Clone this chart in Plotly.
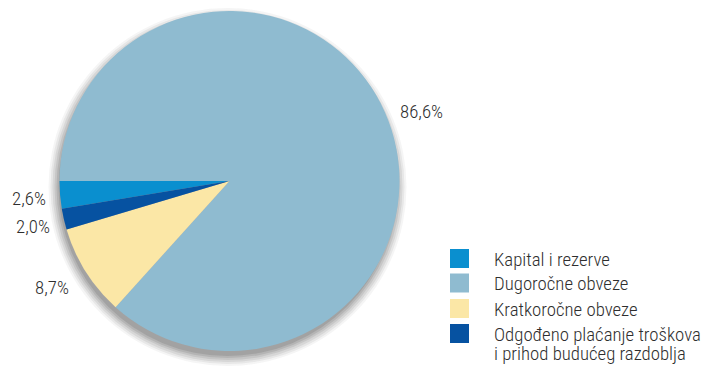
import plotly.graph_objects as go

# Structure of liabilities (shares in %)
labels = ["Kapital i rezerve", "Dugoročne obveze", "Kratkoročne obveze",
          "Odgođeno plaćanje troškova\ni prihod budućeg razdoblja"]
values = [2.6, 86.6, 8.7, 2.0]
colors = ["#0a8fcf", "#8fbbd0", "#fbe7a6", "#0652a1"]

W, H = 706, 368
FONT = "Roboto Condensed, Liberation Sans Narrow, sans-serif"
TXT = "#2e2e2e"
FS = 18.8

def px(x):
    return x / W

def py(y):
    return 1 - y / H

# pie geometry in pixels
cx, cy, r = 229.5, 181, 170

total = sum(values)
# first slice ends exactly at 9 o'clock, slices run clockwise
rotation = 270 - 360 * values[0] / total

fig = go.Figure(go.Pie(
    labels=[l.replace("\n", " ") for l in labels],
    values=values,
    sort=False,
    direction="clockwise",
    rotation=rotation,
    marker=dict(colors=colors, line=dict(width=0)),
    textinfo="none",
    hoverinfo="label+percent",
    showlegend=False,
    domain=dict(x=[px(cx - r), px(cx + r)], y=[py(cy + r), py(cy - r)]),
))

shapes = []
# soft drop shadow under the pie, shifted down and to the left
dx, dy = -2, 6
for grow, op in [(9, 0.05), (7, 0.07), (5, 0.09), (3, 0.11), (1, 0.13), (-1, 0.15)]:
    shapes.append(dict(
        type="circle", xref="paper", yref="paper", layer="below",
        x0=px(cx + dx - r - grow), x1=px(cx + dx + r + grow),
        y0=py(cy + dy + r + grow), y1=py(cy + dy - r - grow),
        fillcolor="#3c3c3c", opacity=op, line=dict(width=0),
    ))

annotations = []
# value labels around the pie
label_pos = [(29, 199), (421, 112), (52, 288), (33, 227)]
for v, (lx, ly) in zip(values, label_pos):
    annotations.append(dict(
        x=px(lx), y=py(ly), xref="paper", yref="paper",
        text=f"{v:.1f}%".replace(".", ","), showarrow=False,
        font=dict(family=FONT, size=FS, color=TXT, weight=300),
        xanchor="center", yanchor="middle",
    ))

# legend: colour swatch plus one annotation per text line
leg_rows = [258.5, 283, 308.5, 333.5]
line_gap = 19
for lab, col, ly in zip(labels, colors, leg_rows):
    shapes.append(dict(
        type="rect", xref="paper", yref="paper",
        x0=px(450), x1=px(469), y0=py(ly + 9.5), y1=py(ly - 9.5),
        fillcolor=col, line=dict(width=0),
    ))
    for k, part in enumerate(lab.split("\n")):
        annotations.append(dict(
            x=px(492), y=py(ly + 1 + k * line_gap), xref="paper", yref="paper",
            text=part, showarrow=False, align="left",
            font=dict(family=FONT, size=FS, color=TXT, weight=300),
            xanchor="left", yanchor="middle",
        ))

fig.update_layout(
    width=W, height=H,
    margin=dict(l=0, r=0, t=0, b=0),
    paper_bgcolor="white", plot_bgcolor="white",
    shapes=shapes, annotations=annotations,
)

fig.write_html("out.html")
